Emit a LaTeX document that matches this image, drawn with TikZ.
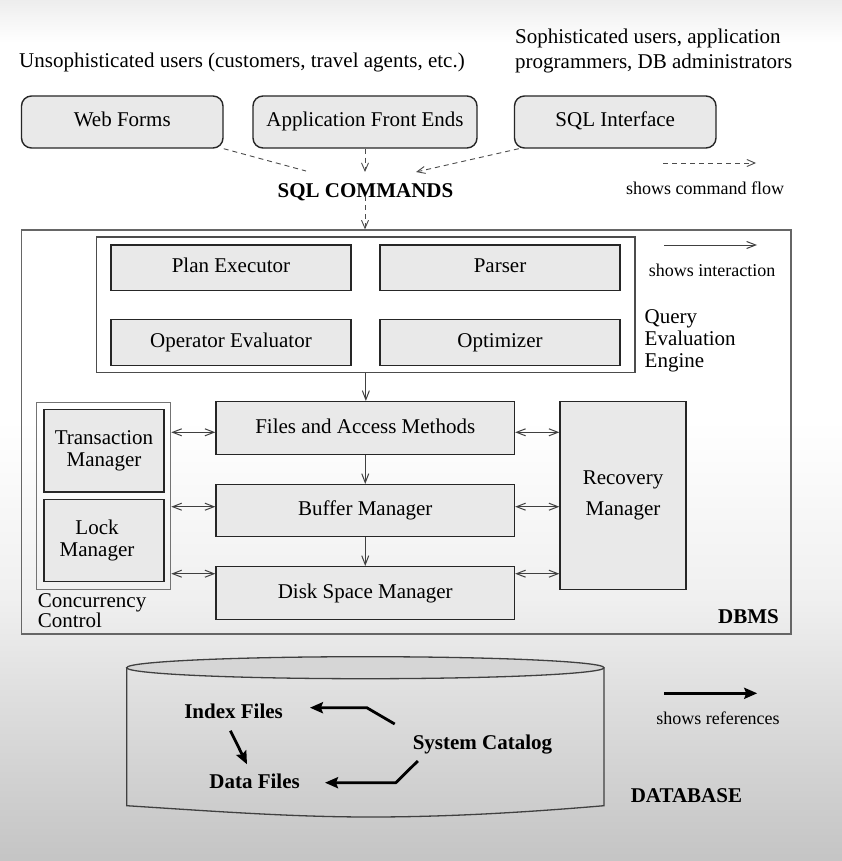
\documentclass[tikz,border=0pt]{standalone}
\usepackage{fontspec}
\setmainfont{Liberation Serif}
\usetikzlibrary{arrows.meta}
\newcommand{\mainsz}{\fontsize{21}{22}\selectfont}
\newcommand{\legsz}{\fontsize{18}{20}\selectfont}
\definecolor{boxfill}{HTML}{E9E9E9}
\definecolor{cylfill}{HTML}{D6D6D6}
\pgfdeclareverticalshading{bgshade}{100bp}{rgb(0bp)=(0.77,0.77,0.77); rgb(25bp)=(0.77,0.77,0.77); rgb(34.4bp)=(0.87,0.87,0.87); rgb(40.2bp)=(0.94,0.94,0.94); rgb(50.6bp)=(1,1,1); rgb(72.5bp)=(1,1,1); rgb(73.8bp)=(0.965,0.965,0.965); rgb(75bp)=(0.93,0.93,0.93); rgb(100bp)=(0.93,0.93,0.93)}
\tikzset{
  box/.style={draw=black!85, line width=1.4pt, fill=boxfill, inner sep=0pt, font=\mainsz, align=center},
  onebox/.style={box, text height=14pt, text depth=4pt},
  rbox/.style={onebox, rounded corners=10pt},
  frame/.style={draw=black!60, line width=1.3pt, inner sep=0pt},
  lbl/.style={inner sep=0pt, font=\mainsz},
  blbl/.style={inner sep=0pt, font=\mainsz\bfseries},
  leg/.style={inner sep=0pt, font=\legsz},
  flow/.style={draw=black!70, line width=0.9pt, dash pattern=on 5pt off 4pt},
  flowarr/.style={flow, -{Straight Barb[length=8pt,width=7pt]}},
  inter/.style={draw=black!75, line width=1pt, -{Straight Barb[length=9pt,width=7pt]}},
  dbl/.style={draw=black!75, line width=1pt, {Straight Barb[length=9pt,width=7pt]}-{Straight Barb[length=9pt,width=7pt]}},
  refarr/.style={draw=black, line width=2.8pt, line join=miter, -{Stealth[length=13pt,width=11pt,inset=2pt]}},
}
\begin{document}
\begin{tikzpicture}[x=1pt,y=-1pt]
\useasboundingbox (0,0) rectangle (842,861);
\shade[shading=bgshade] (0,0) rectangle (842,861);

% top labels
\node[lbl, anchor=west] (unsoph) at (19,62) {Unsophisticated users (customers, travel agents, etc.)};
\node[lbl, anchor=west, align=left, font=\fontsize{21}{25}\selectfont] (soph) at (515,51) {Sophisticated users, application\\programmers, DB administrators};

% interface boxes
\node[rbox, minimum width=201.5pt, minimum height=52pt] (webforms) at (122.25,122) {Web Forms};
\node[rbox, minimum width=224pt, minimum height=52pt] (app) at (365,122) {Application Front Ends};
\node[rbox, minimum width=201.5pt, minimum height=52pt] (sqlint) at (615.25,122) {SQL Interface};

\node[blbl] (sqlcmd) at (365.5,192) {SQL COMMANDS};
\coordinate (wfend) at (306,171);
\coordinate (cmdin) at (365,172);
\coordinate (sqlend) at (416,172);
\coordinate (cmdout) at (365,196);

% legend: command flow
\coordinate (cf1) at (663,163);
\coordinate (cf2) at (756,163);
\draw[flowarr] (cf1) -- (cf2);
\node[leg] (cflbl) at (705,188) {shows command flow};

% DBMS frame
\node[frame, minimum width=769.5pt, minimum height=404pt] (dbms) at (406.25,432) {};
\node[blbl, anchor=east] (dbmslbl) at (779,617) {DBMS};

% query evaluation engine
\node[frame, draw=black!70, minimum width=538.3pt, minimum height=135.6pt] (qee) at (365.85,304.8) {};
\node[onebox, minimum width=240pt, minimum height=45.7pt] (plan) at (231,267.85) {Plan Executor};
\node[onebox, minimum width=240pt, minimum height=45.7pt] (parser) at (500,267.85) {Parser};
\node[onebox, minimum width=240pt, minimum height=46.4pt] (opeval) at (231,342.5) {Operator Evaluator};
\node[onebox, minimum width=240pt, minimum height=46.4pt] (optim) at (500,342.5) {Optimizer};
\node[lbl, anchor=west, align=left] (qeelbl) at (644.5,341) {Query\\Evaluation\\Engine};

% legend: interaction
\coordinate (in1) at (664,245);
\coordinate (in2) at (757,245);
\draw[inter] (in1) -- (in2);
\node[leg] (inlbl) at (712,270.7) {shows interaction};

% storage layers
\node[onebox, minimum width=298.5pt, minimum height=52.6pt] (files) at (365.25,428) {Files and Access Methods};
\node[onebox, minimum width=298.5pt, minimum height=52pt] (buffer) at (365.25,510.7) {Buffer Manager};
\node[onebox, minimum width=298.5pt, minimum height=52.6pt] (disk) at (365.25,593) {Disk Space Manager};
\node[box, font=\fontsize{21}{31}\selectfont, minimum width=126pt, minimum height=187.6pt] (recov) at (623,495.5) {Recovery\\Manager};

% concurrency control
\node[frame, draw=black!55, line width=1pt, minimum width=134.3pt, minimum height=186.7pt] (cc) at (103.65,495.65) {};
\node[box, minimum width=120pt, minimum height=82.3pt] (txn) at (104,450.85) {Transaction\\Manager};
\node[box, minimum width=120pt, minimum height=82.4pt] (lock) at (104,540.5) {};
\node[lbl, align=center] (locklbl) at (97,540.5) {Lock\\Manager};
\node[lbl, anchor=west, align=left, font=\fontsize{21}{18}\selectfont] (cclbl) at (37.6,611) {Concurrency\\Control};

% command flow connectors
\draw[flow] (webforms.south east) -- (wfend);
\draw[flowarr] (app.south) -- (cmdin);
\draw[flowarr] ([xshift=5pt]sqlint.south west) -- (sqlend);
\draw[flowarr] (cmdout) -- (cmdout |- dbms.north);

% interaction connectors
\draw[inter] (qee.south) -- (qee.south |- files.north);
\draw[inter] (files.south) -- (buffer.north);
\draw[inter] (buffer.south) -- (disk.north);
\coordinate (ya) at (0,432.3);
\coordinate (yb) at (0,506.7);
\coordinate (yc) at (0,573.7);
\draw[dbl] (cc.east |- ya) -- (files.west |- ya);
\draw[dbl] (cc.east |- yb) -- (buffer.west |- yb);
\draw[dbl] (cc.east |- yc) -- (disk.west |- yc);
\draw[dbl] (files.east |- ya) -- (recov.west |- ya);
\draw[dbl] (buffer.east |- yb) -- (recov.west |- yb);
\draw[dbl] (disk.east |- yc) -- (recov.west |- yc);

% database cylinder
\draw[draw=black!75, line width=1.3pt] (126.7,667.7) -- (126.7,805.7)
  .. controls (210,811) and (290,817) .. (370,817)
  .. controls (450,817) and (530,812) .. (604,805.7) -- (604,667.7);
\draw[draw=black!75, line width=1.3pt, fill=cylfill] (365.35,667.7) ellipse [x radius=238.65pt, y radius=11pt];

\node[blbl] (idx) at (233.6,711) {Index Files};
\node[blbl] (data) at (254.6,781.7) {Data Files};
\node[blbl] (syscat) at (482.5,744.3) {System Catalog};
\node[blbl] (dblbl) at (686.4,796) {DATABASE};

\coordinate (ra1) at (394.7,724);
\coordinate (ra2) at (366.8,707.7);
\coordinate (ra3) at (309.9,707.7);
\coordinate (rb1) at (417.8,761);
\coordinate (rb2) at (395.8,782.7);
\coordinate (rb3) at (325,782.7);
\coordinate (rc1) at (230.4,730.7);
\coordinate (rc2) at (247,764.3);
\draw[refarr] (ra1) -- (ra2) -- (ra3);
\draw[refarr] (rb1) -- (rb2) -- (rb3);
\draw[refarr] (rc1) -- (rc2);

% legend: references
\coordinate (rl1) at (664.3,693.3);
\coordinate (rl2) at (757.2,693.3);
\draw[refarr] (rl1) -- (rl2);
\node[leg] (rllbl) at (718,718.3) {shows references};
\end{tikzpicture}
\end{document}
